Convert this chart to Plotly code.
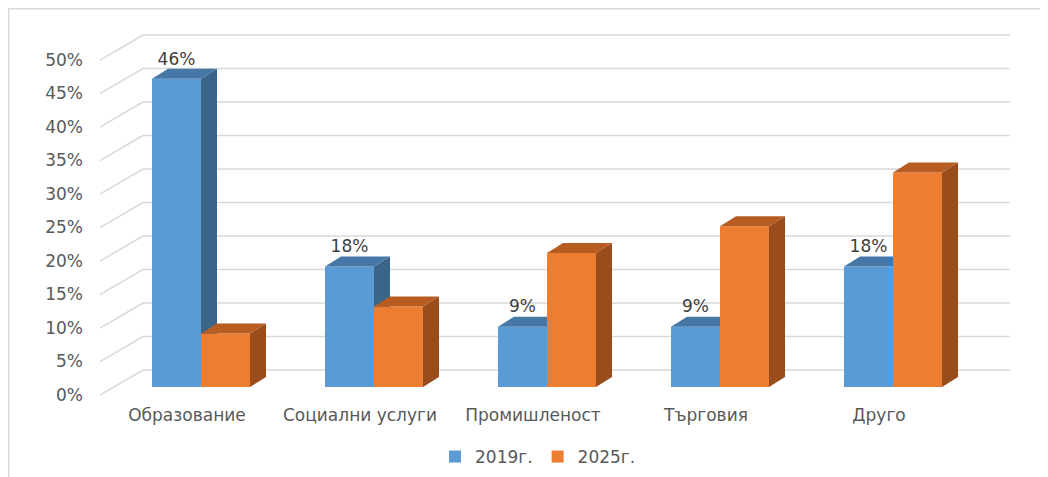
import plotly.graph_objects as go

# ---------------- data ----------------
categories = ["Образование", "Социални услуги", "Промишленост", "Търговия", "Друго"]
series_names = ["2019г.", "2025г."]
values_2019 = [46, 18, 9, 9, 18]
values_2025 = [8, 12, 20, 24, 32]
y_ticks = [0, 5, 10, 15, 20, 25, 30, 35, 40, 45, 50]

# ---------------- style / geometry (screen pixels) ----------------
OFF = 8                         # default page body margin
W, H = 1048 - OFF, 477 - OFF
PLOT_LEFT, PLOT_RIGHT, PLOT_TOP, PLOT_BOTTOM = 100, 1010, 20, 400
L, R = PLOT_LEFT - OFF, W - (PLOT_RIGHT - OFF)
T, B = PLOT_TOP - OFF, H - (PLOT_BOTTOM - OFF)
PLOT_W, PLOT_H = PLOT_RIGHT - PLOT_LEFT, PLOT_BOTTOM - PLOT_TOP
PX_X = 173.0          # pixels per category
PX_Y = 6.7            # pixels per percent
FIRST_TICK_PX = 187   # screen x of first category label centre
BAR_ZERO_PX = 387     # screen y of bar bases (front plane)
LABEL_ZERO_PX = 395   # screen y of the 0% label (front of floor)
GRID_ZERO_PX = 370    # screen y of 0% on back wall
WALL_DX_PX = 43       # horizontal depth of the side wall
BAR_W = 49 / PX_X
BAR_SHIFT = 35 / PX_X
DEPTH_DX = 16 / PX_X
DEPTH_DY = 10 / PX_Y

COL = {
    "2019г.": ("#5B9BD5", "#3B6489", "#4677A6"),
    "2025г.": ("#ED7D31", "#9A4D1C", "#B85D22"),
}
FONT = "DejaVu Sans"
FS = 17
TXT = "#595959"

x_left = -(FIRST_TICK_PX - PLOT_LEFT) / PX_X
x_right = x_left + PLOT_W / PX_X


def yrange(zero_px):
    return [-(PLOT_BOTTOM - zero_px) / PX_Y, (zero_px - PLOT_TOP) / PX_Y]


def px_to_paper_x(px):
    return (px - PLOT_LEFT) / PLOT_W


def px_to_paper_y(py):
    return (PLOT_BOTTOM - py) / PLOT_H


grid_shift = (LABEL_ZERO_PX - GRID_ZERO_PX) / PX_Y
x_idx = list(range(len(categories)))

fig = go.Figure()


def add_series(name, vals, offset, yax):
    front, side, top = COL[name]
    fig.add_trace(go.Bar(
        x=x_idx, y=vals, name=name, width=BAR_W, offset=offset,
        marker=dict(color=front, line=dict(width=0)), yaxis=yax,
        hoverinfo="skip"))
    sx, sy, tx, ty = [], [], [], []
    for i, v in zip(x_idx, vals):
        x0 = i + offset
        x1 = x0 + BAR_W
        sx += [x1, x1 + DEPTH_DX, x1 + DEPTH_DX, x1, x1, None]
        sy += [0, DEPTH_DY, v + DEPTH_DY, v, 0, None]
        tx += [x0, x0 + DEPTH_DX, x1 + DEPTH_DX, x1, x0, None]
        ty += [v, v + DEPTH_DY, v + DEPTH_DY, v, v, None]
    fig.add_trace(go.Scatter(x=sx, y=sy, mode="lines", fill="toself",
                             fillcolor=side, line=dict(width=0, color=side),
                             showlegend=False, hoverinfo="skip", yaxis=yax))
    fig.add_trace(go.Scatter(x=tx, y=ty, mode="lines", fill="toself",
                             fillcolor=top, line=dict(width=0, color=top),
                             showlegend=False, hoverinfo="skip", yaxis=yax))


add_series(series_names[0], values_2019, -BAR_SHIFT, "y")
add_series(series_names[1], values_2025, -BAR_SHIFT + BAR_W, "y2")

# value labels for 2019
fig.add_trace(go.Scatter(
    x=[i - BAR_SHIFT + BAR_W / 2 for i in x_idx],
    y=[v + DEPTH_DY for v in values_2019],
    text=[f"{v}%" for v in values_2019], mode="text",
    textposition="top center",
    textfont=dict(family=FONT, size=FS, color="#404040"),
    showlegend=False, hoverinfo="skip", yaxis="y2"))

# floor/side-wall diagonals (label axis)
dx, dy = [], []
for v in y_ticks:
    dx += [x_left, x_left + WALL_DX_PX / PX_X, None]
    dy += [v, v + grid_shift, None]
fig.add_trace(go.Scatter(x=dx, y=dy, mode="lines",
                         line=dict(color="#D9D9D9", width=1.5),
                         showlegend=False, hoverinfo="skip", yaxis="y3"))

shapes = []
for v in y_ticks:
    shapes.append(dict(type="line", xref="x", yref="y3", layer="below",
                       x0=x_left + WALL_DX_PX / PX_X, x1=x_right,
                       y0=v + grid_shift, y1=v + grid_shift,
                       line=dict(color="#D9D9D9", width=1.5)))
# outer chart border
shapes.append(dict(type="rect", xref="paper", yref="paper",
                   x0=px_to_paper_x(OFF + 0.75), x1=px_to_paper_x(1060),
                   y0=px_to_paper_y(490), y1=px_to_paper_y(OFF + 0.75),
                   line=dict(color="#D9D9D9", width=1.5), layer="below"))

fig.update_layout(
    width=W, height=H,
    margin=dict(l=L, r=R, t=T, b=B, autoexpand=False),
    paper_bgcolor="white", plot_bgcolor="white",
    barmode="overlay",
    shapes=shapes,
    font=dict(family=FONT, size=FS, color=TXT),
    xaxis=dict(range=[x_left, x_right], tickvals=x_idx, ticktext=categories,
               showgrid=False, zeroline=False, showline=False,
               ticks="", ticklabelstandoff=3,
               tickfont=dict(family=FONT, size=FS, color=TXT)),
    yaxis=dict(range=yrange(BAR_ZERO_PX), visible=False),
    yaxis2=dict(range=yrange(BAR_ZERO_PX), overlaying="y", visible=False),
    yaxis3=dict(range=yrange(LABEL_ZERO_PX), overlaying="y", side="left",
                tickvals=y_ticks, ticktext=[f"{v}%" for v in y_ticks],
                showgrid=False, zeroline=False, showline=False, ticks="",
                ticklabelstandoff=16,
                tickfont=dict(family=FONT, size=FS, color=TXT)),
    legend=dict(orientation="h", x=px_to_paper_x(538), xanchor="center",
                y=px_to_paper_y(457), yanchor="middle",
                font=dict(family=FONT, size=FS, color=TXT),
                itemwidth=30, traceorder="normal"),
)

fig.write_html("out.html")
